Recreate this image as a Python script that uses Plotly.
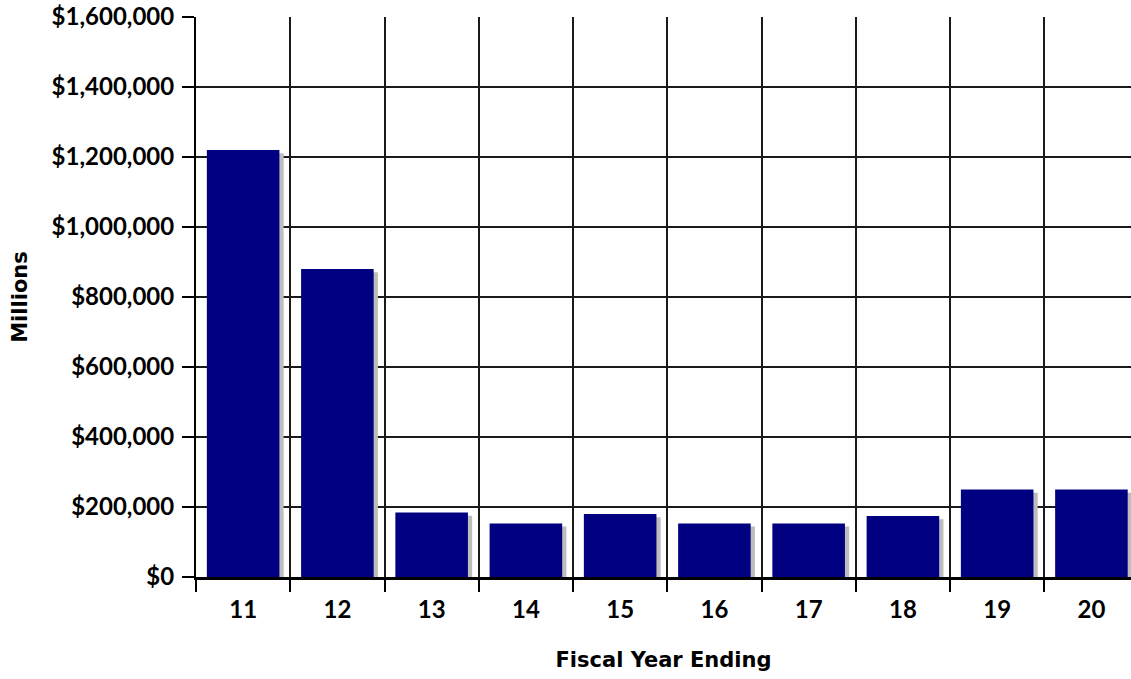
import plotly.graph_objects as go

categories = ["11", "12", "13", "14", "15", "16", "17", "18", "19", "20"]
values = [1220000, 880000, 184000, 153000, 180000, 153000, 153000, 174000, 250000, 250000]
y_ticks = [0, 200000, 400000, 600000, 800000, 1000000, 1200000, 1400000, 1600000]

NAVY = "#000080"
SHADOW = "#bdbdbd"
BAR_W = 0.77
SHADOW_DX = 0.045
SHADOW_DROP = 9000

TICK_FONT = dict(family="Lato", size=24, color="#000000", weight="bold")
TITLE_FONT = dict(family="DejaVu Sans", size=21, color="#000000", weight="bold")

fig = go.Figure()
fig.add_trace(go.Bar(
    x=categories, y=[v - SHADOW_DROP for v in values],
    width=BAR_W, offset=-BAR_W / 2 + SHADOW_DX,
    marker=dict(color=SHADOW, line=dict(width=0)),
    hoverinfo="skip", showlegend=False,
))
fig.add_trace(go.Bar(
    x=categories, y=values,
    width=BAR_W, offset=-BAR_W / 2,
    marker=dict(color=NAVY, line=dict(width=0)),
    showlegend=False,
))

fig.update_layout(
    width=1131, height=679,
    margin=dict(l=196, r=0, t=17, b=102),
    paper_bgcolor="white", plot_bgcolor="white",
    barmode="overlay",
    font=TICK_FONT,
    xaxis=dict(
        type="category",
        range=[-0.5, 9.42],
        tickson="boundaries",
        ticks="outside", ticklen=12, tickwidth=2, tickcolor="#000",
        showgrid=True, gridcolor="#1a1a1a", gridwidth=2,
        showline=True, linecolor="#000", linewidth=3,
        tickfont=TICK_FONT,
        ticklabelstandoff=9,
        title=dict(text="Fiscal Year Ending", standoff=31, font=TITLE_FONT),
        automargin=False,
    ),
    yaxis=dict(
        range=[0, 1600000],
        tickvals=y_ticks,
        tickformat="$,.0f",
        ticks="outside", ticklen=12, tickwidth=2, tickcolor="#000",
        showgrid=True, gridcolor="#1a1a1a", gridwidth=2,
        zeroline=False,
        showline=True, linecolor="#000", linewidth=2,
        tickfont=TICK_FONT,
        ticklabelstandoff=3,
        title=dict(text="Millions", standoff=18, font=TITLE_FONT),
        automargin=False,
    ),
)

fig.write_html(
    "out.html",
    config={"displayModeBar": False},
    post_script="document.body.style.margin='0';document.body.style.overflow='hidden';",
)
